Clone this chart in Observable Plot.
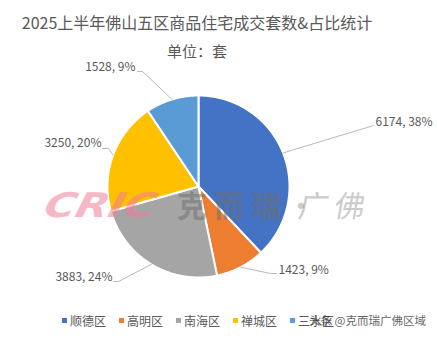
<!DOCTYPE html>
<html><head><meta charset="utf-8">
<script src="https://cdn.jsdelivr.net/npm/d3@7"></script>
<script src="https://cdn.jsdelivr.net/npm/@observablehq/plot@0.6"></script>
<style>
body{margin:0;background:#fff;font-family:"Noto Sans CJK SC","Noto Sans",sans-serif;color:#595959;}
#wrap{position:relative;width:437px;height:339px;overflow:hidden;background:#fff;}
#title{margin-top:3px;height:38px;line-height:38px;font-size:16px;text-align:center;width:394px;white-space:nowrap;}
#sub{height:20px;line-height:20px;font-size:15px;text-align:center;width:394px;}
#chart{height:245px;}
#chart svg{display:block;overflow:visible;}
#legend{height:28px;display:flex;align-items:center;padding-left:62px;font-size:12px;color:#595959;}
.li{display:flex;align-items:center;margin-right:13px;}
.sw{width:5px;height:5px;margin-right:3px;}
.wm{position:absolute;pointer-events:none;white-space:nowrap;line-height:1;transform-origin:left top;}
</style></head><body>
<div id="wrap">
  <div id="title">2025上半年佛山五区商品住宅成交套数&amp;占比统计</div>
  <div id="sub">单位：套</div>
  <div id="chart"></div>
  <div id="legend"></div>
  <div class="wm" style="left:50px;top:188px;font-family:'DejaVu Sans';font-weight:bold;font-style:italic;font-size:34px;letter-spacing:0px;color:#f07d98;opacity:0.55;transform:scaleX(1.25) skewX(-12deg);">CRIC</div>
  <div class="wm" style="left:177px;top:189px;font-weight:bold;font-size:30px;letter-spacing:7px;color:#6f6f6f;opacity:0.5;">克而瑞</div>
  <div class="wm" style="left:286px;top:189px;font-size:30px;color:#7f7f7f;opacity:0.4;">·</div>
  <div class="wm" style="left:302px;top:189px;font-size:30px;letter-spacing:6px;color:#7f7f7f;opacity:0.4;transform:skewX(-10deg);">广佛</div>
  <div class="wm" style="left:309px;top:315px;font-size:11.5px;color:#333;opacity:0.75;">头条 @克而瑞广佛区域</div>
</div>
<script>
const districts = ["顺德区", "高明区", "南海区", "禅城区", "三水区"];
const units = [6174, 1423, 3883, 3250, 1528];
const shares = ["38%", "9%", "24%", "20%", "9%"];
const colors = ["#4472C4", "#ED7D31", "#A5A5A5", "#FFC000", "#5B9BD5"];

// label layout (in pie-radius units, relative to the centre)
const labelLayout = [
  {x: 1.945, y: 0.703, anchor: "start", leader: [[1.923, 0.670]]},
  {x: 0.879, y: -0.923, anchor: "start", leader: [[0.857, -0.956], [0.791, -0.956]]},
  {x: -0.945, y: -1.000, anchor: "end", leader: [[-0.934, -1.044], [-0.879, -1.044]]},
  {x: -1.066, y: 0.473, anchor: "end", leader: [[-1.055, 0.418], [-0.989, 0.418]]},
  {x: -0.692, y: 1.308, anchor: "end", leader: [[-0.670, 1.264], [-0.615, 1.264]]}
];

const data = districts.map((d, i) => ({district: d, units: units[i], share: shares[i]}));
const arcs = d3.pie().sort(null).value(d => d.units)(data);

// slice outlines
const slicePts = [];
arcs.forEach(a => {
  const k = a.data.district;
  slicePts.push({k, x: 0, y: 0});
  const n = Math.max(2, Math.ceil((a.endAngle - a.startAngle) / 0.01));
  for (let j = 0; j <= n; j++) {
    const t = a.startAngle + (a.endAngle - a.startAngle) * j / n;
    slicePts.push({k, x: Math.sin(t), y: Math.cos(t)});
  }
});

// leader lines
const leaderPts = [];
arcs.forEach((a, i) => {
  const k = a.data.district;
  labelLayout[i].leader.forEach(p => leaderPts.push({k, x: p[0], y: p[1]}));
  const m = (a.startAngle + a.endAngle) / 2;
  leaderPts.push({k, x: Math.sin(m), y: Math.cos(m)});
});

const labels = arcs.map((a, i) => ({
  x: labelLayout[i].x, y: labelLayout[i].y, anchor: labelLayout[i].anchor,
  text: `${a.data.units}, ${a.data.share}`
}));

const chart = Plot.plot({
  width: 437, height: 245,
  marginLeft: 107, marginRight: 148, marginTop: 34, marginBottom: 29,
  x: {domain: [-1, 1], axis: null},
  y: {domain: [-1, 1], axis: null},
  color: {domain: districts, range: colors},
  style: {fontFamily: "'Noto Sans CJK SC', sans-serif", background: "transparent"},
  marks: [
    Plot.line(slicePts, {x: "x", y: "y", z: "k", fill: "k", stroke: "white", strokeWidth: 2, curve: "linear-closed", strokeLinejoin: "round"}),
    Plot.line(leaderPts, {x: "x", y: "y", z: "k", stroke: "#a6a6a6", strokeWidth: 0.8}),
    Plot.text(labels.filter(d => d.anchor === "start"), {x: "x", y: "y", text: "text", textAnchor: "start", fill: "#595959", fontSize: 12}),
    Plot.text(labels.filter(d => d.anchor === "end"), {x: "x", y: "y", text: "text", textAnchor: "end", fill: "#595959", fontSize: 12})
  ]
});
document.getElementById("chart").appendChild(chart);

const lg = document.getElementById("legend");
districts.forEach((d, i) => {
  const item = document.createElement("div");
  item.className = "li";
  item.innerHTML = `<span class="sw" style="background:${colors[i]}"></span><span>${d}</span>`;
  lg.appendChild(item);
});
</script>
</body></html>
